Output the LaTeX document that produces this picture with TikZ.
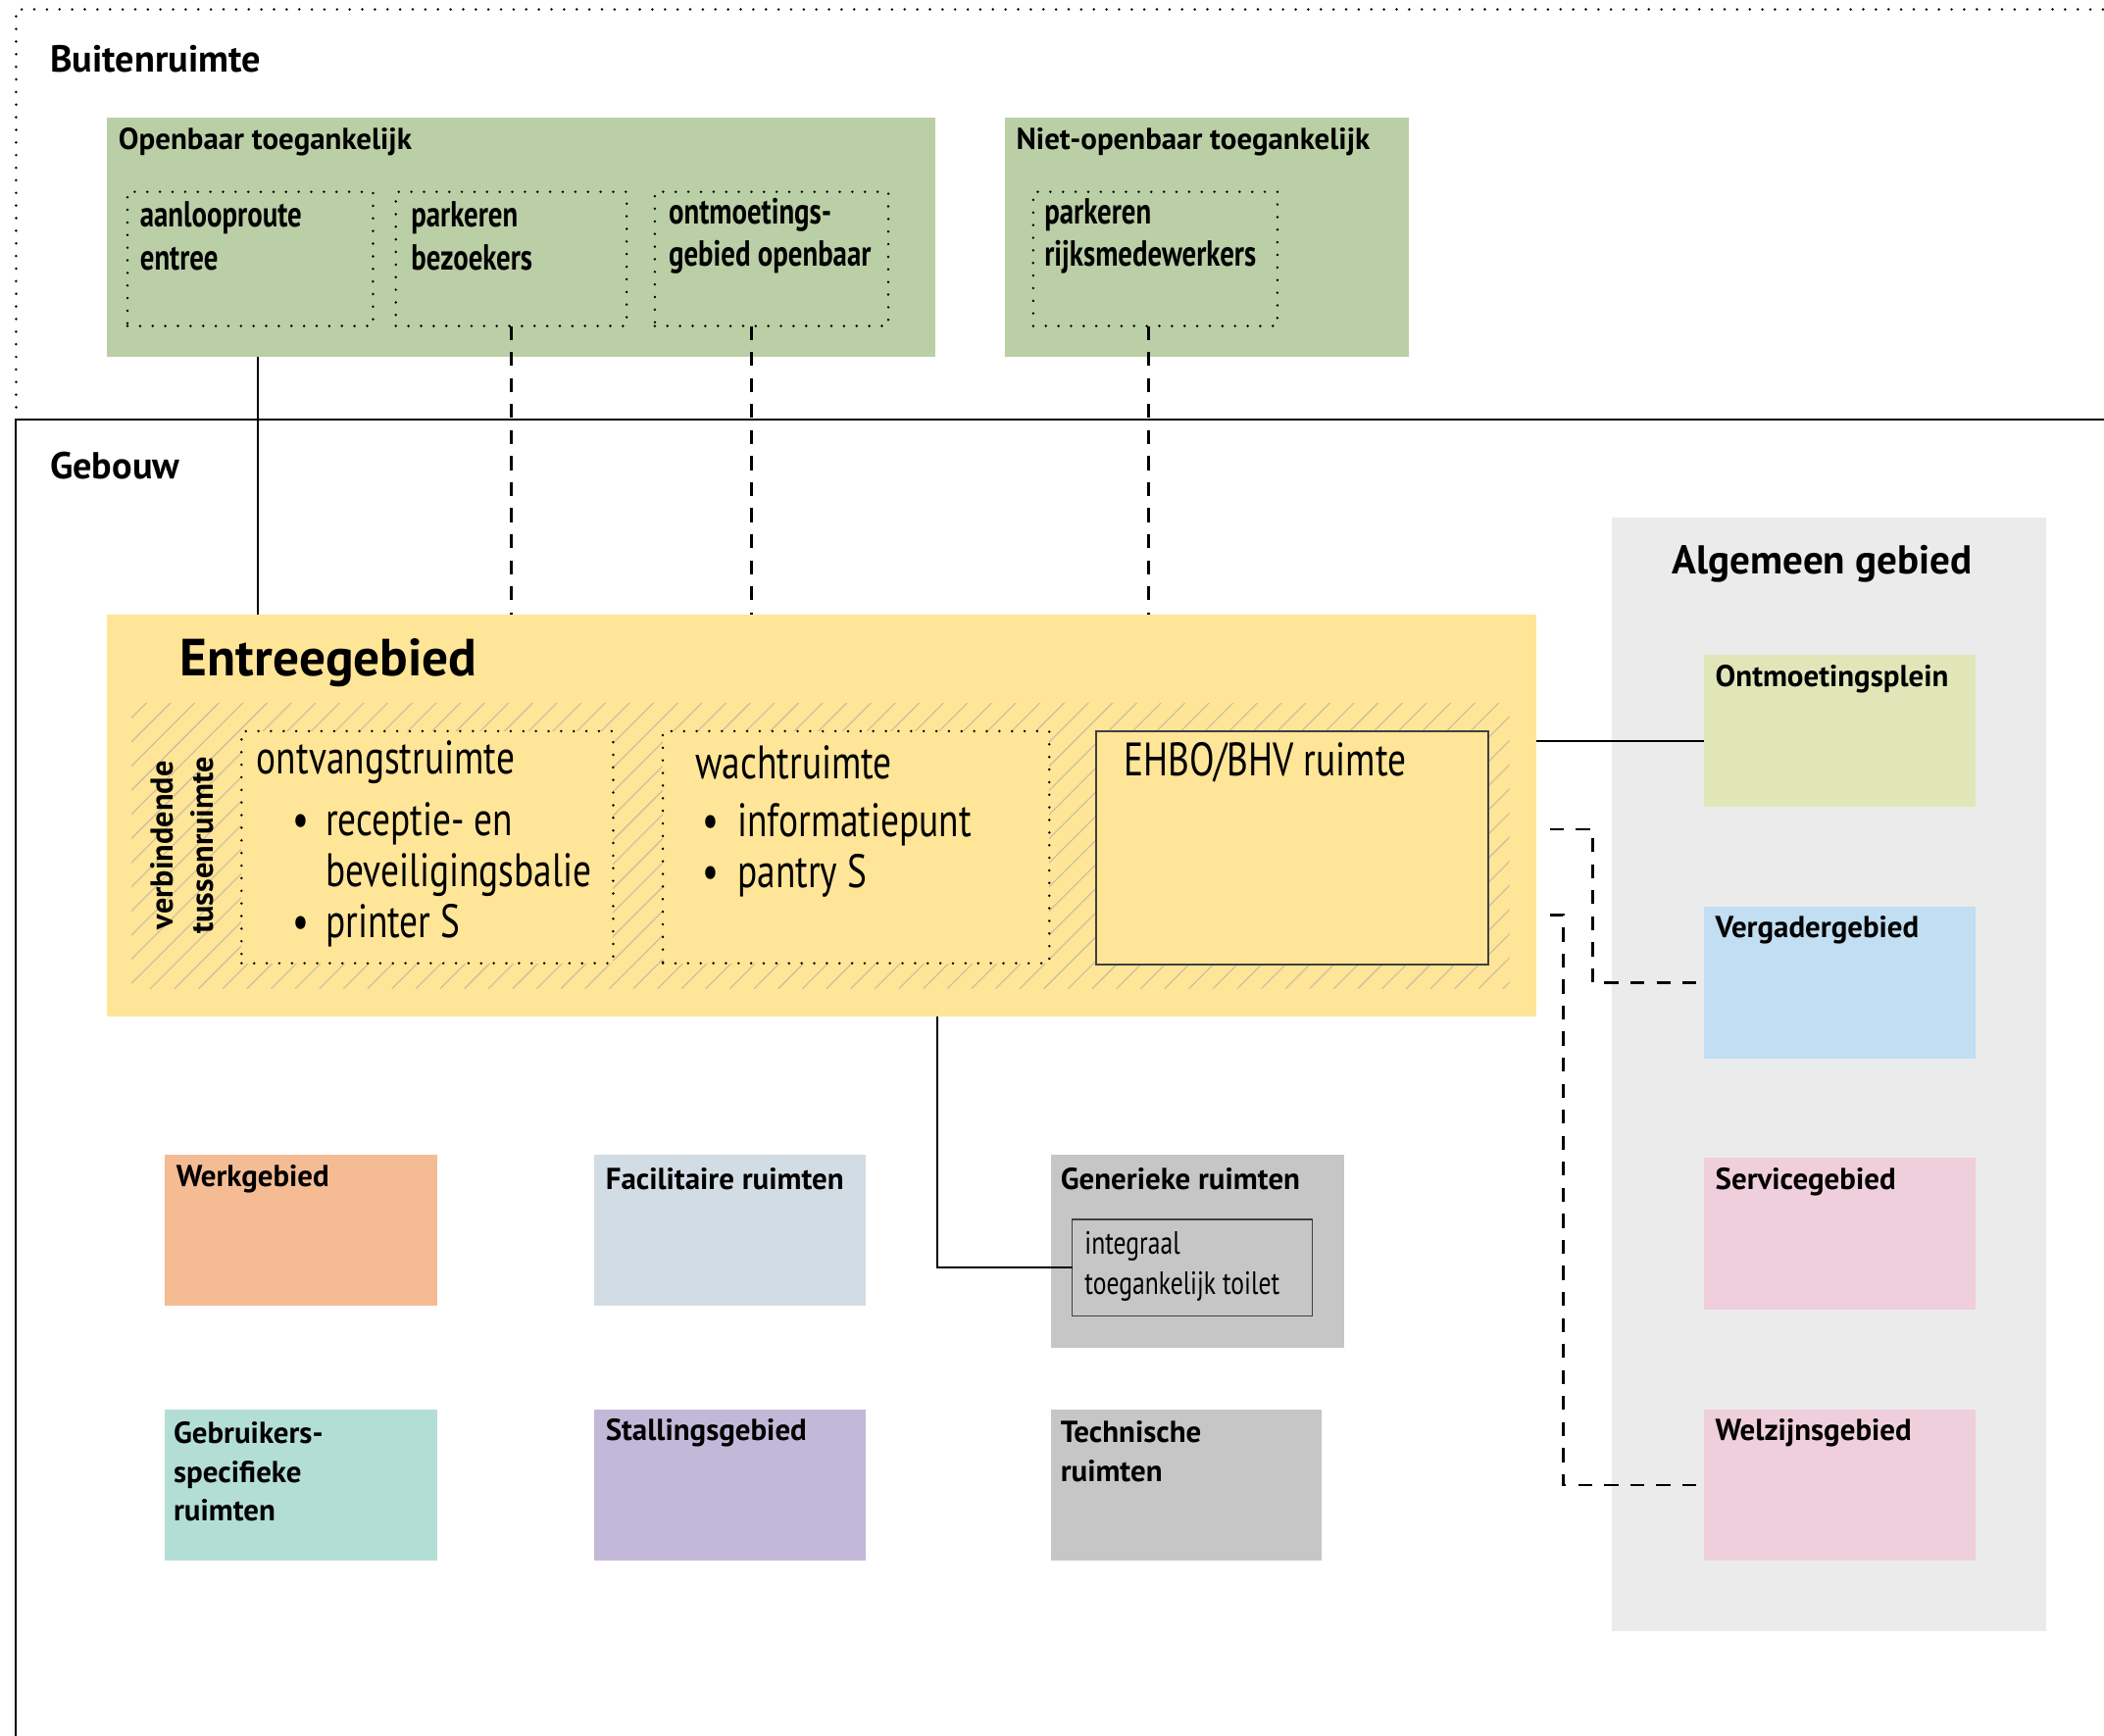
\documentclass[tikz,border=0pt]{standalone}
\usepackage{fontspec}
\setmainfont{PT Sans}
\newfontfamily\smalfont[FakeStretch=0.78]{PT Sans}
\usetikzlibrary{fit}

\definecolor{groen}{HTML}{BBCFA6}
\definecolor{geel}{HTML}{FFE597}
\definecolor{arcering}{HTML}{C9BE9C}
\definecolor{paneel}{HTML}{EBEBEB}
\definecolor{plein}{HTML}{E1E6B9}
\definecolor{blauw}{HTML}{C1DEF2}
\definecolor{roze}{HTML}{EFCFDC}
\definecolor{zalm}{HTML}{F5BC94}
\definecolor{grijsblauw}{HTML}{D2DCE5}
\definecolor{grijs}{HTML}{C6C6C6}
\definecolor{turkoois}{HTML}{B3DED6}
\definecolor{lila}{HTML}{C2B9D9}

\begin{document}
\begin{tikzpicture}[x=0.5pt,y=-0.5pt,
        vlak/.style={inner sep=0, outer sep=0},
        stip/.style={line width=1pt, dash pattern=on 0pt off 4.7pt, line cap=round},
        streep/.style={line width=0.9pt, dash pattern=on 5.2pt off 4.5pt},
        lijn/.style={line width=0.75pt},
        kop/.style={font=\bfseries\fontsize{14}{17}\selectfont, anchor=west, inner sep=0},
        titel/.style={font=\bfseries\fontsize{11.3}{14.5}\selectfont, anchor=west, align=left, inner sep=0},
        smal/.style={font=\smalfont\bfseries\fontsize{13.5}{16}\selectfont, anchor=west, align=left, inner sep=0},
        ruimte/.style={font=\smalfont\fontsize{17.5}{19}\selectfont, anchor=west, align=left, inner sep=0},
        toilet/.style={font=\smalfont\fontsize{12}{15}\selectfont, anchor=west, align=left, inner sep=0}]

        \useasboundingbox (0,0) rectangle (1568,1294);

        % buitenruimte en gebouw
        \draw[stip] (12,313) -- (12,7) -- (1568,7);
        \draw[lijn] (12,1294) -- (12,313) -- (1568,313);
        \node[kop] (buiten) at (37,44) {Buitenruimte};
        \node[kop] (gebouw) at (37,347) {Gebouw};

        \node[vlak, fill=groen, fit={(80,88) (697,266)}] (openbaar) {};
        \node[titel] (openbaar-t) at (88,106) {Openbaar toegankelijk};
        \node[vlak, draw, stip, fit={(95,143) (278,243)}] (aanloop) {};
        \node[smal] (aanloop-t) at (104,176) {aanlooproute\\entree};
        \node[vlak, draw, stip, fit={(295,143) (467,243)}] (bezoekers) {};
        \node[smal] (bezoekers-t) at (306,176) {parkeren\\bezoekers};
        \node[vlak, draw, stip, fit={(488,143) (662,243)}] (ontmoeting) {};
        \node[smal] (ontmoeting-t) at (498,176) {ontmoetings-\\gebied openbaar};

        \node[vlak, fill=groen, fit={(749,88) (1050,266)}] (nietopenbaar) {};
        \node[titel] (nietopenbaar-t) at (757,106) {Niet-openbaar toegankelijk};
        \node[vlak, draw, stip, fit={(770,143) (952,243)}] (rijk) {};
        \node[smal] (rijk-t) at (778,176) {parkeren\\rijksmedewerkers};

        % entreegebied
        \node[vlak, fill=geel, fit={(80,458) (1145,758)}] (entree) {};
        \begin{scope}
            \clip (98,524) rectangle (1125,737);
            \foreach \i in {-230,-212,...,1130}
                \draw[arcering, line width=0.4pt] (\i,737) -- ++(215,-215);
        \end{scope}
        \node[font=\bfseries\fontsize{19.5}{22}\selectfont, anchor=west, inner sep=0] (entree-t) at (134,494) {Entreegebied};
        \node[font=\bfseries\fontsize{11.8}{15}\selectfont, rotate=90, align=center, inner sep=0] (tussen) at (136,630) {verbindende\\tussenruimte};

        \node[vlak, draw, stip, fill=geel, fit={(180,545) (457,718)}] (ontvangst) {};
        \node[ruimte] (ontvangst-t) at (191,568) {ontvangstruimte};
        \node[ruimte] (ontvangst-l) at (218,653) {\begin{tabular}{@{}l@{\hspace{6pt}}l@{}}
            • & receptie- en\\
              & beveiligingsbalie\\
            • & printer S
        \end{tabular}};

        \node[vlak, draw, stip, fill=geel, fit={(494,545) (782,718)}] (wacht) {};
        \node[ruimte] (wacht-t) at (518,568) {wachtruimte};
        \node[ruimte] (wacht-l) at (523,635) {\begin{tabular}{@{}l@{\hspace{7pt}}l@{}}
            • & informatiepunt\\
            • & pantry S
        \end{tabular}};

        \node[vlak, draw=black!75, line width=0.6pt, fill=geel, fit={(817,545) (1109,719)}] (ehbo) {};
        \node[ruimte] (ehbo-t) at (837,568) {EHBO/BHV ruimte};

        % algemeen gebied
        \node[vlak, fill=paneel, fit={(1201,386) (1525,1216)}] (algemeen) {};
        \node[font=\bfseries\fontsize{15}{18}\selectfont, inner sep=0] (algemeen-t) at (1358,420) {Algemeen gebied};
        \node[vlak, fill=plein, fit={(1270,488) (1472,601)}] (plein) {};
        \node[titel] (plein-t) at (1278,506) {Ontmoetingsplein};
        \node[vlak, fill=blauw, fit={(1270,676) (1472,789)}] (vergader) {};
        \node[titel] (vergader-t) at (1278,693) {Vergadergebied};
        \node[vlak, fill=roze, fit={(1270,863) (1472,976)}] (service) {};
        \node[titel] (service-t) at (1278,881) {Servicegebied};
        \node[vlak, fill=roze, fit={(1270,1051) (1472,1163)}] (welzijn) {};
        \node[titel] (welzijn-t) at (1278,1068) {Welzijnsgebied};

        % overige gebieden
        \node[vlak, fill=zalm, fit={(123,861) (326,973)}] (werk) {};
        \node[titel] (werk-t) at (131,879) {Werkgebied};
        \node[vlak, fill=grijsblauw, fit={(443,861) (645,973)}] (facilitair) {};
        \node[titel] (facilitair-t) at (451,879) {Facilitaire ruimten};
        \node[vlak, fill=grijs, fit={(783,861) (1002,1005)}] (generiek) {};
        \node[titel] (generiek-t) at (790,879) {Generieke ruimten};
        \node[vlak, draw=black!75, line width=0.6pt, fit={(799,909) (978,981)}] (toilet) {};
        \node[toilet] (toilet-t) at (808,944) {integraal\\toegankelijk toilet};
        \node[vlak, fill=turkoois, fit={(123,1051) (326,1163)}] (gebruikers) {};
        \node[titel] (gebruikers-t) at (129,1097) {Gebruikers-\\specifieke\\ruimten};
        \node[vlak, fill=lila, fit={(443,1051) (645,1163)}] (stalling) {};
        \node[titel] (stalling-t) at (451,1068) {Stallingsgebied};
        \node[vlak, fill=grijs, fit={(783,1051) (985,1163)}] (technisch) {};
        \node[titel] (technisch-t) at (790,1082) {Technische\\ruimten};

        % verbindingen
        \draw[lijn] ([xshift=3pt]aanloop.south |- openbaar.south) -- ([xshift=3pt]aanloop.south |- entree.north);
        \draw[streep] (bezoekers.south) -- (bezoekers.south |- entree.north);
        \draw[streep] ([xshift=-7.5pt]ontmoeting.south) -- ([xshift=-7.5pt]ontmoeting.south |- entree.north);
        \draw[streep] ([xshift=-2.5pt]rijk.south) -- ([xshift=-2.5pt]rijk.south |- entree.north);
        \draw[lijn] ([yshift=-4pt]plein.west -| entree.east) -- ([yshift=-4pt]plein.west);
        \coordinate (vergader-in) at (1155,618);
        \coordinate (welzijn-in) at (1155,682);
        \draw[streep] (vergader-in) -- ++(32,0) |- (vergader.west);
        \draw[streep] (welzijn-in) -- ++(10,0) |- (welzijn.west);
        \draw[lijn] ([xshift=43pt]entree.south) |- (toilet.west);
\end{tikzpicture}
\end{document}
